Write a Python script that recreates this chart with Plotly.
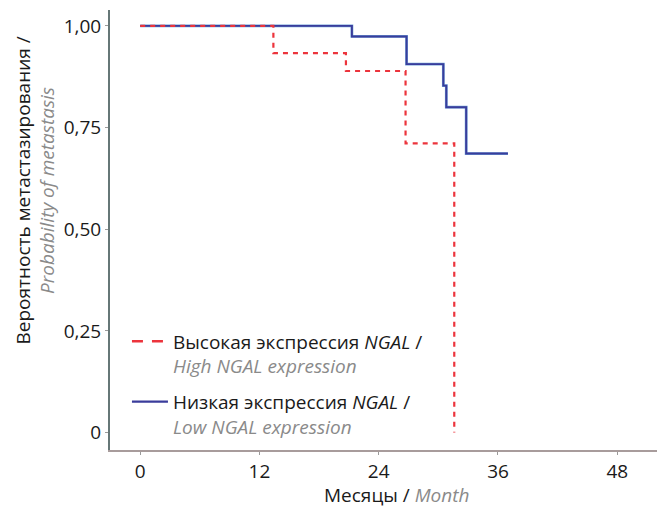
import plotly.graph_objects as go

# Kaplan-Meier style step data (months, probability)
low_t = [0, 21.3, 26.8, 30.5, 30.8, 32.8, 37.0]
low_s = [1.0, 0.974, 0.906, 0.853, 0.800, 0.686, 0.686]
high_t = [0, 13.4, 20.7, 26.7, 31.6]
high_s = [1.0, 0.933, 0.889, 0.711, 0.0]

x_ticks = [0, 12, 24, 36, 48]
y_ticks = [0, 0.25, 0.5, 0.75, 1.0]
y_ticktext = ["0", "0,25", "0,50", "0,75", "1,00"]

high_name = "Высокая экспрессия <i>NGAL</i> /<br><span style='color:#8a8a8a'><i>High NGAL expression</i></span>"
low_name = "Низкая экспрессия <i>NGAL</i> /<br><span style='color:#8a8a8a'><i>Low NGAL expression</i></span>"

FONT = "Open Sans"
FS = 19
RED = "rgb(236,52,60)"
NAVY = "rgb(58,60,155)"

fig = go.Figure()
# blue curve (light underlay + navy line)
fig.add_trace(go.Scatter(x=low_t, y=low_s, mode="lines", line_shape="hv",
                         line=dict(color="rgb(110,160,215)", width=2.8),
                         showlegend=False, hoverinfo="skip"))
fig.add_trace(go.Scatter(x=low_t, y=low_s, mode="lines", line_shape="hv",
                         line=dict(color=NAVY, width=1.9),
                         showlegend=False))
# red curve
fig.add_trace(go.Scatter(x=high_t, y=high_s, mode="lines", line_shape="hv",
                         line=dict(color=RED, width=2.2, dash="5px,5px"),
                         showlegend=False))
# legend-only entries
fig.add_trace(go.Scatter(x=[None], y=[None], mode="lines",
                         line=dict(color=RED, width=2.4, dash="11px,9px"),
                         name=high_name, legendrank=1, legendgroup="high"))
fig.add_trace(go.Scatter(x=[None], y=[None], mode="lines",
                         line=dict(color=NAVY, width=2.2),
                         name=low_name, legendrank=2, legendgroup="low"))

fig.update_layout(
    width=657, height=507,
    margin=dict(l=110, r=0, t=10, b=57),
    paper_bgcolor="white", plot_bgcolor="white",
    font=dict(family=FONT, size=FS, color="#1a1a1a"),
    showlegend=True,
    legend=dict(x=0.031, y=0.29, xanchor="left", yanchor="top",
                bgcolor="rgba(0,0,0,0)", font=dict(size=FS, family=FONT),
                valign="top", tracegroupgap=8, itemwidth=36),
    xaxis=dict(range=[-3.04, 52.0], tickvals=x_ticks, showgrid=False, zeroline=False,
               showline=True, linecolor="#a89c9c", linewidth=2,
               ticks="outside", ticklen=3, tickcolor="#9a9a9a",
               tickfont=dict(size=FS, family=FONT, color="#1a1a1a")),
    yaxis=dict(range=[-0.043, 1.039], tickvals=y_ticks, ticktext=y_ticktext,
               showgrid=False, zeroline=False,
               showline=True, linecolor="#667777", linewidth=2,
               ticks="outside", ticklen=3, tickcolor="#9a9a9a",
               tickfont=dict(size=FS, family=FONT, color="#1a1a1a")),
    annotations=[
        dict(text="Месяцы / <span style='color:#8a8a8a'><i>Month</i></span>",
             xref="paper", yref="paper", x=0.523, y=-0.102,
             xanchor="center", yanchor="middle", showarrow=False,
             font=dict(size=FS, family=FONT, color="#1a1a1a")),
        dict(text="Вероятность метастазирования /<br><span style='color:#8a8a8a'><i>Probability of metastasis</i></span>",
             xref="paper", yref="paper", x=-0.137, y=0.59, textangle=-90,
             xanchor="center", yanchor="middle", showarrow=False,
             font=dict(size=FS, family=FONT, color="#1a1a1a")),
    ],
)

fig.write_html("out.html")
